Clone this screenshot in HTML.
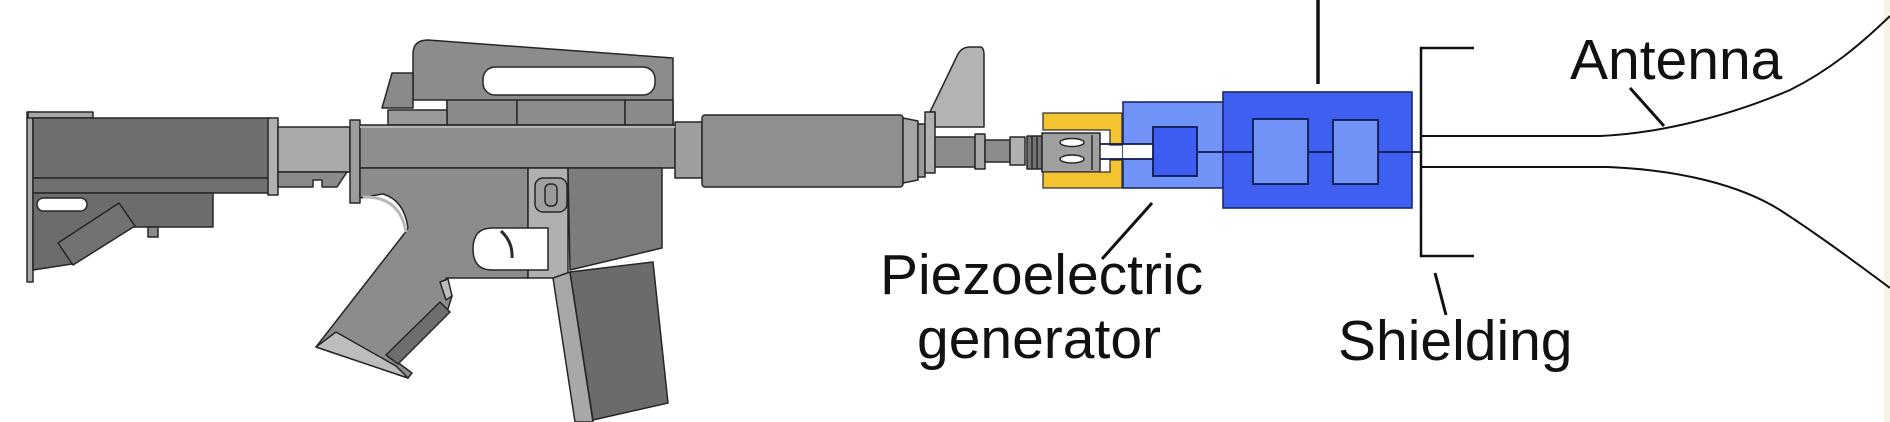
<!DOCTYPE html>
<html>
<head>
<meta charset="utf-8">
<style>
  html,body{margin:0;padding:0;background:#fff;}
  svg{display:block;}
  text{font-family:"Liberation Sans",Arial,sans-serif;font-size:57px;fill:#111;}
</style>
</head>
<body>
<svg width="1890" height="422" viewBox="0 0 1890 422" xmlns="http://www.w3.org/2000/svg">
  <rect x="0" y="0" width="1890" height="422" fill="#ffffff"/>
  <rect x="1884" y="0" width="6" height="422" fill="#f6f3e4"/>

  <g stroke="#262626" stroke-width="1.5" stroke-linejoin="round">
    <!-- STOCK -->
    <rect x="27" y="112" width="6" height="170" fill="#a8a8a8"/>
    <rect x="28" y="112" width="65" height="6" fill="#a8a8a8"/>
    <rect x="33" y="118" width="237" height="60" fill="#6f6f6f"/>
    <rect x="33" y="178" width="237" height="15" fill="#707070"/>
    <polygon points="33,193 213,193 213,227 133,227 72,264 33,270" fill="#6c6c6c"/>
    <polygon points="58,243 119,203 135,226 73,265" fill="#727272"/>
    <rect x="37" y="198" width="50" height="13" rx="6.5" fill="#ffffff"/>
    <rect x="148" y="227" width="10" height="10" fill="#8a8a8a"/>
    <!-- buffer -->
    <rect x="268" y="118" width="10" height="77" fill="#b0b0b0"/>
    <rect x="278" y="127" width="72" height="45" fill="#a9a9a9"/>
    <polygon points="278,172 347,172 337,187 322,187 322,180 313,180 313,187 278,187" fill="#8a8a8a"/>
    <rect x="350" y="120" width="10" height="83" fill="#9c9c9c"/>

    <!-- CARRY HANDLE -->
    <path d="M413,100 L413,54 Q413,40 428,40 L673,58 L673,125 L447,125 L447,100 Z" fill="#8c8c8c"/>
    <rect x="483" y="67" width="172" height="28" rx="12" fill="#ffffff"/>
    <rect x="447" y="100" width="70" height="25" fill="#8a8a8a"/>
    <rect x="517" y="100" width="108" height="25" fill="#8c8c8c"/>
    <rect x="625" y="100" width="48" height="25" fill="#8a8a8a"/>
    <rect x="388" y="110" width="59" height="15" fill="#9a9a9a"/>
    <polygon points="382,108 392,73 413,73 413,108" fill="#8a8a8a"/>

    <!-- UPPER RECEIVER -->
    <rect x="360" y="125" width="315" height="43" fill="#8e8e8e"/>
    <rect x="675" y="122" width="27" height="56" fill="#9e9e9e"/>

    <!-- LOWER RECEIVER + GRIP -->
    <path d="M360,168 L528,168 L528,278 L446,278 L452,296 L447,312 L392,358 L412,373 L408,378 L316,347 L404,234 L408,228 Q404,200 383,194 L360,198 Z" fill="#8c8c8c"/>
    <polygon points="316,347 336,332 396,366 408,378" fill="#bdbdbd"/>
    <polygon points="386,355 440,302 450,312 398,364" fill="#6e6e6e"/>
    <polygon points="440,282 448,279 452,296 446,300" fill="#bdbdbd"/>
    <!-- magwell light column -->
    <rect x="528" y="168" width="40" height="110" fill="#b0b0b0"/>
    <rect x="535" y="178" width="32" height="34" rx="8" fill="#a0a0a0"/>
    <rect x="545" y="184" width="12" height="22" rx="5" fill="#9a9a9a"/>
    <!-- magwell -->
    <polygon points="568,168 662,168 662,248 570,270" fill="#7c7c7c"/>
    <!-- trigger guard opening -->
    <path d="M548,228 L492,228 Q473,228 473,249 Q473,270 492,270 L548,270 Z" fill="#ffffff"/>
    <!-- magazine -->
    <polygon points="553,278 570,272 593,422 575,422" fill="#a8a8a8"/>
    <polygon points="570,272 653,262 668,403 593,420" fill="#6b6b6b"/>

    <!-- HANDGUARD / BARREL -->
    <rect x="702" y="115" width="201" height="72" rx="3" fill="#8f8f8f"/>
    <polygon points="903,118 918,121 918,180 903,183" fill="#a5a5a5"/>
    <rect x="918" y="124" width="7" height="53" fill="#9a9a9a"/>
    <path d="M930,112 L958,54 Q962,47 970,47 L980,47 Q984,47 984,55 L984,127 L935,127 L935,112 Z" fill="#b3b3b3"/>
    <rect x="925" y="112" width="10" height="61" fill="#b0b0b0"/>
    <rect x="935" y="137" width="40" height="30" fill="#8c8c8c"/>
    <rect x="975" y="134" width="10" height="35" fill="#a8a8a8"/>
    <rect x="985" y="140" width="25" height="22" fill="#8c8c8c"/>
    <rect x="1010" y="137" width="15" height="28" fill="#b0b0b0"/>
    <rect x="1027" y="136" width="15" height="33" fill="#757575"/>
    <rect x="1042" y="133" width="58" height="39" fill="#a0a0a0"/>
    <ellipse cx="1072" cy="142.5" rx="12" ry="4" fill="#ffffff"/>
    <ellipse cx="1072" cy="159" rx="12" ry="4" fill="#ffffff"/>
  </g>
  <g stroke="#2a2a2a" stroke-width="1.5" fill="none">
    <line x1="1092" y1="135" x2="1092" y2="170"/>
    <line x1="1032" y1="136" x2="1032" y2="169"/>
    <line x1="1037" y1="136" x2="1037" y2="169"/>
    <path d="M363,197 Q400,196 406,232" stroke="#b8b8b8" stroke-width="3"/>
    <path d="M501,231 Q513,242 512,258" stroke="#2a2a2a" stroke-width="3"/>
    <line x1="360" y1="127" x2="675" y2="127" stroke="#b5b5b5" stroke-width="2"/>
  </g>

  <!-- YELLOW BRACKET -->
  <g stroke="#333" stroke-width="1.3" fill="#f4c430">
    <path d="M1043,113 H1122 V145 H1110 V130 H1043 Z"/>
    <path d="M1043,172 H1110 V160 H1122 V188 H1043 Z"/>
  </g>

  <!-- BLUE BOXES -->
  <g stroke="#1a2a70" stroke-width="1.6">
    <rect x="1123" y="102" width="100" height="86" fill="#7192f7"/>
    <rect x="1123" y="144" width="30" height="15" fill="#ffffff" stroke="none"/>
    <rect x="1223" y="92" width="189" height="116" fill="#3f5ff0"/>
  </g>
  <g stroke="#111a50" stroke-width="1.8">
    <line x1="1100" y1="144" x2="1153" y2="144"/>
    <line x1="1100" y1="159" x2="1153" y2="159"/>
    <line x1="1197" y1="152" x2="1421" y2="152"/>
    <rect x="1153" y="127" width="44" height="49" fill="#3d5df0"/>
    <rect x="1253" y="119" width="55" height="65" fill="#7192f7"/>
    <rect x="1333" y="120" width="45" height="64" fill="#7192f7"/>
  </g>

  <!-- LEADERS / SHIELDING / ANTENNA -->
  <g stroke="#111" fill="none" stroke-linecap="butt">
    <line x1="1318" y1="0" x2="1318" y2="84" stroke-width="3.5"/>
    <line x1="1152" y1="203" x2="1102" y2="259" stroke-width="3"/>
    <line x1="1435" y1="273" x2="1446" y2="315" stroke-width="3"/>
    <line x1="1630" y1="88" x2="1664" y2="126" stroke-width="3"/>
    <path d="M1474,48 H1421 V256 H1474" stroke-width="2.5"/>
    <path d="M1421,136 L1600,136 C1650,134 1720,120 1790,90 C1830,70 1860,45 1890,16" stroke-width="2"/>
    <path d="M1421,167 L1608,167 C1680,170 1740,185 1780,210 C1820,236 1855,262 1890,288" stroke-width="2"/>
  </g>

  <!-- LABELS -->
  <text x="1570" y="79">Antenna</text>
  <text x="880" y="294">Piezoelectric</text>
  <text x="917" y="358">generator</text>
  <text x="1338" y="360">Shielding</text>
</svg>
</body>
</html>
